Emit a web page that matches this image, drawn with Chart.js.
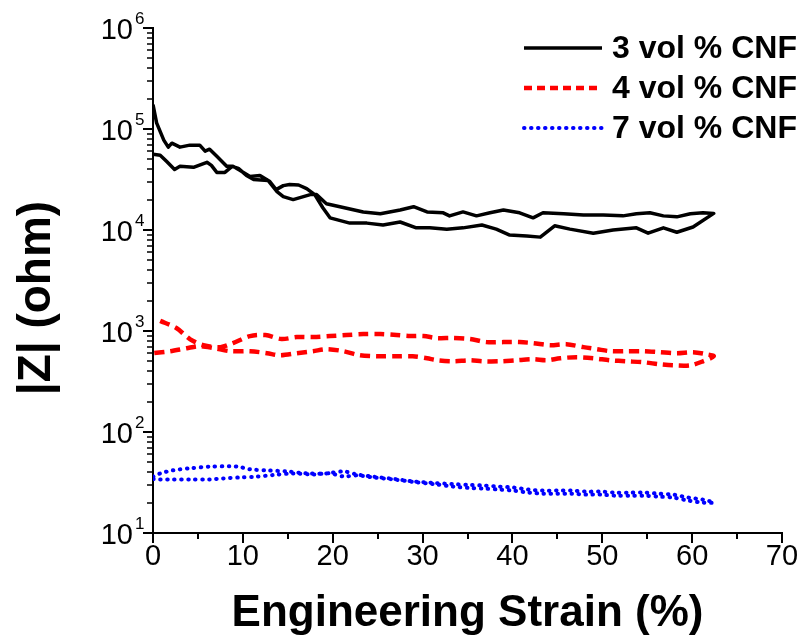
<!DOCTYPE html>
<html>
<head>
<meta charset="utf-8">
<script src="https://cdn.jsdelivr.net/npm/chart.js@4"></script>
<style>
  html, body { margin: 0; padding: 0; background: #fff; }
  #wrap { width: 806px; height: 640px; }
</style>
</head>
<body>
<div id="wrap"><canvas id="chart" width="806" height="640"></canvas></div>
<script>
// strain (%) and |Z| (ohm) for each film, loading then unloading
const strain3 = [0, 0.4, 1.2, 1.7, 2.1, 3.0, 4.1, 5.2, 5.8, 6.3, 7.1, 8.2, 8.9, 9.7, 10.8, 11.9, 13.0, 13.7, 14.5, 15.2, 16.2, 17.1, 18.0, 18.9, 19.7, 21.9, 23.8, 25.6, 27.5, 29.3, 30.8, 32.7, 34.5, 36.6, 38.2, 39.7, 41.6, 43.1, 44.7, 46.4, 49.0, 51.2, 53.8, 55.1, 56.8, 58.3, 60.1, 62.4,
  61.2, 59.8, 58.3, 56.8, 55.3, 53.8, 52.3, 50.1, 47.9, 45.7, 43.4, 42.3, 40.8, 39.0, 37.5, 36.0, 34.5, 33.0, 32.3, 30.5, 29.0, 27.5, 25.3, 23.4, 20.8, 19.3, 18.2, 17.5, 15.6, 14.5, 13.8, 12.8, 11.2, 10.4, 9.5, 8.8, 8.0, 7.1, 6.5, 6.0, 4.5, 3.0, 2.4, 1.5, 0.8, 0];
const z3 = [174000, 115000, 77600, 66100, 72400, 66100, 69200, 69200, 60300, 63100, 53700, 42700, 42700, 38900, 33900, 34700, 30200, 25100, 27500, 28200, 27900, 25700, 22400, 16600, 13200, 11700, 11700, 11200, 12000, 10500, 10500, 10200, 10500, 11200, 10200, 8900, 8700, 8500, 11000, 10200, 9300, 10000, 10500, 9300, 10500, 9500, 10700, 14600,
  14800, 14500, 13500, 13800, 14800, 14500, 13800, 14100, 14100, 14500, 14800, 13200, 14800, 15800, 14800, 13800, 15100, 13800, 14800, 15100, 17000, 15800, 14500, 15100, 17000, 18200, 22400, 22400, 20000, 21400, 24000, 30900, 31600, 34700, 40700, 42700, 37200, 37200, 43600, 46800, 41700, 42700, 39800, 47900, 55000, 56200];

const strain4 = [0.8, 2.6, 4.1, 5.6, 7.5, 8.9, 10.8, 12.5, 14.3, 16.0, 17.8, 19.7, 21.5, 23.4, 25.3, 27.1, 28.6, 30.1, 31.6, 33.4, 35.3, 37.1, 39.0, 40.8, 42.3, 44.2, 46.0, 47.9, 49.4, 50.9, 52.7, 54.6, 56.4, 58.3, 60.1, 61.6, 62.4,
  61.2, 59.8, 57.9, 56.4, 54.6, 52.7, 50.9, 49.0, 47.1, 45.3, 43.8, 42.3, 40.4, 38.6, 36.7, 35.3, 33.4, 31.6, 30.5, 28.9, 27.1, 24.9, 23.0, 21.2, 19.3, 17.8, 16.0, 14.1, 12.7, 10.8, 8.6, 6.8, 5.2, 3.75, 1.9, 0];
const z4 = [1260, 1070, 832, 724, 692, 759, 891, 912, 832, 871, 871, 891, 912, 933, 933, 912, 891, 891, 851, 851, 832, 776, 776, 776, 759, 724, 741, 692, 661, 631, 631, 631, 617, 603, 617, 589, 562,
  501, 457, 457, 468, 490, 501, 513, 537, 550, 537, 513, 525, 513, 501, 501, 513, 501, 513, 537, 562, 562, 562, 575, 631, 661, 631, 603, 575, 603, 631, 631, 676, 708, 676, 631, 603];

const strain7 = [0, 0.8, 2.2, 4.1, 6.3, 8.6, 9.5, 10.8, 12.7, 14.9, 17.1, 19.3, 21.2, 22.7, 24.5, 26.8, 29.0, 31.2, 33.4, 35.3, 36.9, 38.5, 40.1, 41.8, 43.4, 45.0, 46.6, 48.2, 49.8, 51.5, 53.1, 54.7, 56.3, 57.9, 59.6, 61.2, 62.4,
  61.2, 59.6, 57.9, 56.3, 54.7, 53.1, 51.5, 49.8, 48.2, 46.6, 45.0, 43.4, 41.8, 40.1, 38.5, 36.9, 35.3, 33.4, 31.2, 29.0, 26.8, 24.5, 22.7, 21.2, 19.7, 17.8, 15.6, 13.4, 11.5, 9.7, 7.8, 6.3, 4.1, 2.2, 0.8, 0];
const z7 = [36.1, 38.9, 41.7, 43.7, 45.4, 45.7, 45.4, 42.7, 41.7, 40.7, 38.9, 38.9, 40.7, 38.0, 36.1, 34.3, 32.4, 31.3, 30.5, 29.9, 29.5, 28.8, 28.2, 26.9, 26.3, 26.3, 26.3, 25.7, 25.7, 25.1, 25.1, 25.1, 24.5, 24.0, 22.4, 21.4, 20.0,
  20.0, 20.9, 22.4, 22.9, 23.4, 23.4, 23.4, 24.0, 24.0, 24.5, 24.5, 24.5, 25.1, 26.3, 26.9, 27.5, 27.9, 28.8, 30.5, 32.0, 33.9, 35.5, 37.2, 36.3, 38.9, 38.0, 38.9, 37.5, 36.1, 35.5, 34.7, 33.9, 33.9, 33.9, 33.9, 34.3];

const seriesLabels = ['3 vol % CNF', '4 vol % CNF', '7 vol % CNF'];
const xTicks = [0, 10, 20, 30, 40, 50, 60, 70];
const yDecades = [1, 2, 3, 4, 5, 6];

function pts(xs, ys) {
  return xs.map((x, i) => ({ x: x, y: ys[i] }));
}

const FONT = "'Liberation Sans', Arial, Helvetica, sans-serif";

// minor ticks, 10^n labels, y title and legend
const decor = {
  id: 'decor',
  afterDraw(chart) {
    const ctx = chart.ctx;
    const xs = chart.scales.x, ys = chart.scales.y;
    const a = chart.chartArea;
    ctx.save();
    ctx.strokeStyle = '#000';
    ctx.fillStyle = '#000';
    // x ticks
    for (let v = 0; v <= 70; v += 5) {
      const px = Math.round(xs.getPixelForValue(v));
      const major = v % 10 === 0;
      ctx.lineWidth = 2;
      ctx.beginPath();
      ctx.moveTo(px, a.bottom);
      ctx.lineTo(px, a.bottom + (major ? 10 : 6));
      ctx.stroke();
    }
    // y ticks
    yDecades.forEach(d => {
      for (let m = 1; m <= (d === 6 ? 1 : 9); m++) {
        const py = Math.round(ys.getPixelForValue(m * Math.pow(10, d)));
        ctx.lineWidth = m === 1 ? 2 : 1.5;
        ctx.beginPath();
        ctx.moveTo(a.left - (m === 1 ? 10 : 6), py);
        ctx.lineTo(a.left, py);
        ctx.stroke();
      }
    });
    // y tick labels
    yDecades.forEach(d => {
      const py = ys.getPixelForValue(Math.pow(10, d));
      ctx.font = '29px ' + FONT;
      ctx.textAlign = 'right';
      ctx.textBaseline = 'middle';
      ctx.fillText('10', 133, py + 3);
      ctx.font = '17px ' + FONT;
      ctx.textAlign = 'left';
      ctx.fillText(String(d), 135, py - 9);
    });
    // y title
    ctx.save();
    ctx.translate(37, 298);
    ctx.rotate(-Math.PI / 2);
    ctx.font = 'bold 46px ' + FONT;
    ctx.textAlign = 'center';
    ctx.textBaseline = 'middle';
    ctx.fillText('|Z| (ohm)', 0, 0);
    ctx.restore();
    // legend
    chart.data.datasets.forEach((ds, i) => {
      const y = 48 + i * 40;
      ctx.save();
      ctx.strokeStyle = ds.borderColor;
      ctx.lineWidth = ds.borderWidth;
      ctx.lineCap = ds.borderCapStyle || 'butt';
      ctx.setLineDash(ds.legendDash || ds.borderDash || []);
      ctx.beginPath();
      ctx.moveTo(524, y);
      ctx.lineTo(602, y);
      ctx.stroke();
      ctx.restore();
      ctx.font = 'bold 32px ' + FONT;
      ctx.textAlign = 'left';
      ctx.textBaseline = 'middle';
      ctx.fillText(ds.label, 612, y + 1);
    });
    ctx.restore();
  }
};

new Chart(document.getElementById('chart'), {
  type: 'line',
  data: {
    datasets: [
      {
        label: seriesLabels[0],
        data: pts(strain3, z3),
        borderColor: '#000000',
        borderWidth: 3.5,
        borderJoinStyle: 'round',
        pointRadius: 0,
        tension: 0
      },
      {
        label: seriesLabels[1],
        data: pts(strain4, z4),
        borderColor: '#ff0000',
        borderWidth: 4.5,
        borderDash: [10, 6],
        legendDash: [8, 5],
        pointRadius: 0,
        tension: 0.3
      },
      {
        label: seriesLabels[2],
        data: pts(strain7, z7),
        borderColor: '#0000ff',
        borderWidth: 4,
        borderDash: [0.5, 6.5],
        borderCapStyle: 'round',
        pointRadius: 0,
        tension: 0.3
      }
    ]
  },
  options: {
    responsive: false,
    animation: false,
    layout: { padding: { left: 0, right: 24, top: 28, bottom: 0 } },
    plugins: { legend: { display: false }, tooltip: { enabled: false } },
    scales: {
      x: {
        type: 'linear',
        min: 0,
        max: 70,
        afterFit: s => { s.height = 107; },
        afterBuildTicks: s => { s.ticks = xTicks.map(v => ({ value: v })); },
        grid: { display: false, drawTicks: false },
        border: { display: true, color: '#000', width: 2 },
        ticks: { color: '#000', padding: 7, maxRotation: 0, font: { family: FONT, size: 29 } },
        title: {
          display: true,
          text: 'Engineering Strain (%)',
          color: '#000',
          font: { family: FONT, size: 44, weight: 'bold' },
          padding: { top: 0, bottom: 0 }
        }
      },
      y: {
        type: 'logarithmic',
        min: 10,
        max: 1000000,
        afterFit: s => { s.width = 153; },
        grid: { display: false, drawTicks: false },
        border: { display: true, color: '#000', width: 2 },
        ticks: { display: false }
      }
    }
  },
  plugins: [decor]
});
</script>
</body>
</html>
